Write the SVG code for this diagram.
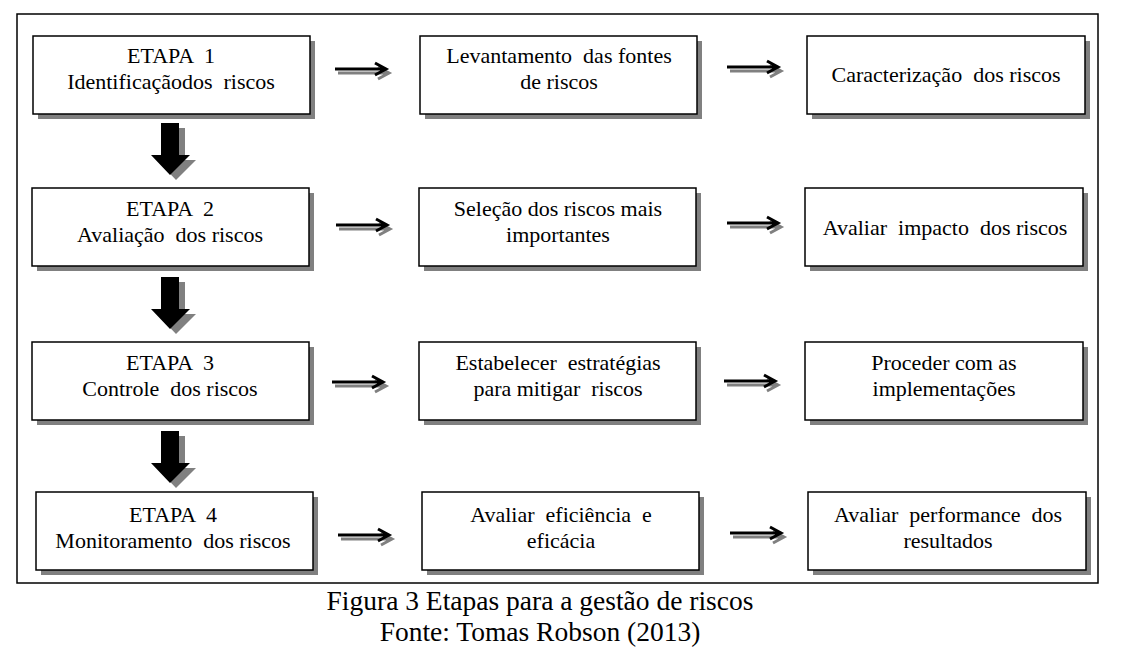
<svg xmlns="http://www.w3.org/2000/svg" width="1127" height="663" viewBox="0 0 1127 663">
<style>
.bg{fill:#fff}
.frame{fill:none;stroke:#000;stroke-width:1.5}
.box{fill:#fff;stroke:#000;stroke-width:1.5}
.shadow{fill:#808080}
.t{font-family:"Liberation Serif","Times New Roman",serif;font-size:22px;fill:#000;text-anchor:middle;white-space:pre}
.cap{font-family:"Liberation Serif","Times New Roman",serif;font-size:27.5px;fill:#000;text-anchor:middle;white-space:pre}
.ar{fill:none;stroke:#000;stroke-width:3}
.ars{fill:none;stroke:#808080;stroke-width:3}
.down{fill:#000}
.downs{fill:#808080}
</style>
<defs>
<g id="harrow">
<path class="ars" d="M3,4 H54 M43,-2 L54,4 L43,10"/>
<path class="ar" d="M0,0 H51 M40,-6 L51,0 L40,6"/>
</g>
<g id="darrow">
<path class="downs" d="M6,5 H24 V37 H35 L15,57 L-4,37 H6 Z"/>
<path class="down" d="M0,0 H18 V32 H29 L9,52 L-10,32 H0 Z"/>
</g>
</defs>
<rect class="bg" x="0" y="0" width="1127" height="663"/>
<rect class="frame" x="17" y="14" width="1081" height="569"/>

<g id="connectors">
<use href="#harrow" x="335" y="69"/>
<use href="#harrow" x="727" y="67"/>
<use href="#harrow" x="336" y="225"/>
<use href="#harrow" x="727" y="223"/>
<use href="#harrow" x="332" y="382"/>
<use href="#harrow" x="724" y="381"/>
<use href="#harrow" x="338" y="535"/>
<use href="#harrow" x="730" y="533"/>
<use href="#darrow" x="161" y="123"/>
<use href="#darrow" x="161" y="277"/>
<use href="#darrow" x="161" y="431"/>
</g>

<g id="n1a"><rect class="shadow" x="38" y="41" width="277" height="78"/><rect class="box" x="33" y="36" width="277" height="78"/><text class="t" x="171" y="63">ETAPA  1</text><text class="t" x="171" y="89">Identificaçãodos  riscos</text></g>
<g id="n1b"><rect class="shadow" x="425" y="41" width="277" height="78"/><rect class="box" x="420" y="36" width="277" height="78"/><text class="t" x="559" y="63">Levantamento  das fontes</text><text class="t" x="559" y="89">de riscos</text></g>
<g id="n1c"><rect class="shadow" x="812" y="41" width="278" height="78"/><rect class="box" x="807" y="36" width="278" height="78"/><text class="t" x="946" y="82">Caracterização  dos riscos</text></g>

<g id="n2a"><rect class="shadow" x="37" y="193" width="277" height="78"/><rect class="box" x="32" y="188" width="277" height="78"/><text class="t" x="170" y="216">ETAPA  2</text><text class="t" x="170" y="242">Avaliação  dos riscos</text></g>
<g id="n2b"><rect class="shadow" x="424" y="193" width="277" height="78"/><rect class="box" x="419" y="188" width="277" height="78"/><text class="t" x="558" y="216">Seleção dos riscos mais</text><text class="t" x="558" y="242">importantes</text></g>
<g id="n2c"><rect class="shadow" x="810" y="193" width="278" height="78"/><rect class="box" x="805" y="188" width="278" height="78"/><text class="t" x="945" y="235">Avaliar  impacto  dos riscos</text></g>

<g id="n3a"><rect class="shadow" x="37" y="347" width="277" height="78"/><rect class="box" x="32" y="342" width="277" height="78"/><text class="t" x="170" y="370">ETAPA  3</text><text class="t" x="170" y="396">Controle  dos riscos</text></g>
<g id="n3b"><rect class="shadow" x="424" y="347" width="277" height="78"/><rect class="box" x="419" y="342" width="277" height="78"/><text class="t" x="558" y="370">Estabelecer  estratégias</text><text class="t" x="558" y="396">para mitigar  riscos</text></g>
<g id="n3c"><rect class="shadow" x="810" y="347" width="278" height="78"/><rect class="box" x="805" y="342" width="278" height="78"/><text class="t" x="944" y="370">Proceder com as</text><text class="t" x="944" y="396">implementações</text></g>

<g id="n4a"><rect class="shadow" x="41" y="497" width="277" height="78"/><rect class="box" x="36" y="492" width="277" height="78"/><text class="t" x="173" y="522">ETAPA  4</text><text class="t" x="173" y="548">Monitoramento  dos riscos</text></g>
<g id="n4b"><rect class="shadow" x="427" y="497" width="277" height="78"/><rect class="box" x="422" y="492" width="277" height="78"/><text class="t" x="561" y="522">Avaliar  eficiência  e</text><text class="t" x="561" y="548">eficácia</text></g>
<g id="n4c"><rect class="shadow" x="813" y="497" width="278" height="78"/><rect class="box" x="808" y="492" width="278" height="78"/><text class="t" x="948" y="522">Avaliar  performance  dos</text><text class="t" x="948" y="548">resultados</text></g>

<text class="cap" x="540" y="610">Figura 3 Etapas para a gestão de riscos</text>
<text class="cap" x="540" y="641">Fonte: Tomas Robson (2013)</text>
</svg>
